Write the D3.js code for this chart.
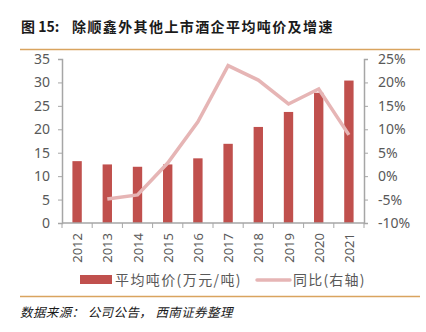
<!DOCTYPE html>
<meta charset="utf-8">
<script src="https://d3js.org/d3.v7.min.js"></script>
<style>
  body { margin: 0; background: #fff; }
  text { font-family: "Noto Sans CJK SC", "Noto Sans", sans-serif; }
</style>
<body>
<div id="chart"></div>
<script>
// chart data
var years = ["2012", "2013", "2014", "2015", "2016", "2017", "2018", "2019", "2020", "2021"];
var price = [13.2, 12.5, 12.0, 12.5, 13.8, 16.9, 20.5, 23.7, 27.8, 30.4];
var growth = [null, -4.9, -4.0, 2.8, 11.6, 23.6, 20.5, 15.4, 18.6, 8.8];
var leftTicks = [0, 5, 10, 15, 20, 25, 30, 35];
var rightTicks = [-10, -5, 0, 5, 10, 15, 20, 25];

var W = 426, H = 332;
var margin = {top: 59, left: 62, right: 62, bottom: 109};
var width = W - margin.left - margin.right,
    height = H - margin.top - margin.bottom;

var svg = d3.select("#chart").append("svg")
    .attr("width", W)
    .attr("height", H);

// title and rules
svg.append("text")
    .attr("x", 21).attr("y", 32)
    .attr("font-size", 14).attr("font-weight", "bold")
    .attr("fill", "#1a1a1a")
    .text("图 15:");
svg.append("text")
    .attr("x", 72).attr("y", 32)
    .attr("font-size", 14).attr("font-weight", "bold")
    .attr("letter-spacing", 1.4)
    .attr("fill", "#1a1a1a")
    .text("除顺鑫外其他上市酒企平均吨价及增速");
svg.append("line").attr("x1", 20).attr("x2", 420).attr("y1", 49.5).attr("y2", 49.5)
    .attr("stroke", "#d9a45f").attr("stroke-width", 1.5);
svg.append("line").attr("x1", 20).attr("x2", 420).attr("y1", 296.5).attr("y2", 296.5)
    .attr("stroke", "#d9a45f").attr("stroke-width", 1.5);
svg.append("text")
    .attr("x", 20).attr("y", 317)
    .attr("font-size", 12.5).attr("font-style", "italic")
    .attr("letter-spacing", 0.4)
    .attr("fill", "#1a1a1a")
    .text("数据来源： 公司公告， 西南证券整理");

var g = svg.append("g")
    .attr("transform", "translate(" + margin.left + "," + margin.top + ")");

var x = d3.scaleBand().domain(years).range([0, width]).paddingInner(0.69).paddingOuter(0.345);
var xb = d3.scaleBand().domain(years).range([0, width]);
var y = d3.scaleLinear().domain([0, 35]).range([height, 0]);
var y2 = d3.scaleLinear().domain([-10, 25]).range([height, 0]);

var axisColor = "#a6a6a6", labelColor = "#595959";

// bars
g.selectAll(".bar").data(years).enter().append("rect")
    .attr("x", function(d) { return x(d); })
    .attr("width", x.bandwidth())
    .attr("y", function(d, i) { return y(price[i]); })
    .attr("height", function(d, i) { return height - y(price[i]); })
    .attr("fill", "#c0504d");

// growth line
var line = d3.line()
    .defined(function(d) { return d.v !== null; })
    .x(function(d) { return xb(d.k) + xb.bandwidth() / 2; })
    .y(function(d) { return y2(d.v); });
g.append("path")
    .datum(years.map(function(k, i) { return {k: k, v: growth[i]}; }))
    .attr("fill", "none")
    .attr("stroke", "#e6b5b5")
    .attr("stroke-width", 3.5)
    .attr("d", line);

// left axis
var ay = g.append("g")
    .call(d3.axisLeft(y).tickValues(leftTicks).tickSize(4).tickPadding(8));
// right axis
var ay2 = g.append("g")
    .attr("transform", "translate(" + width + ",0)")
    .call(d3.axisRight(y2).tickValues(rightTicks).tickSize(4).tickPadding(10)
      .tickFormat(function(d) { return d + "%"; }));
// bottom axis, ticks at band edges
var edges = years.map(function(d) { return xb(d); }).concat([width]);
var ax = g.append("g")
    .attr("transform", "translate(0," + height + ")");
ax.append("line").attr("x1", 0).attr("x2", width).attr("stroke", axisColor).attr("stroke-width", 1.5);
ax.selectAll(".edge").data(edges).enter().append("line")
    .attr("x1", function(d) { return d; }).attr("x2", function(d) { return d; })
    .attr("y1", 0).attr("y2", 5)
    .attr("stroke", axisColor);
ax.selectAll(".yl").data(years).enter().append("text")
    .attr("transform", function(d) {
      return "translate(" + (xb(d) + xb.bandwidth() / 2 + 5) + ",10) rotate(-90)";
    })
    .attr("text-anchor", "end")
    .attr("font-size", 13)
    .attr("fill", labelColor)
    .text(function(d) { return d; });

[ay, ay2].forEach(function(a) {
  a.select(".domain").attr("stroke", axisColor).attr("stroke-width", 1.5);
  a.selectAll(".tick line").attr("stroke", axisColor);
  a.selectAll(".tick text").attr("fill", labelColor).attr("font-size", 14)
    .style("font-family", "'Noto Sans', sans-serif");
});
ax.selectAll("text").style("font-family", "'Noto Sans', sans-serif");

// legend
var lg = svg.append("g");
lg.append("rect").attr("x", 80).attr("y", 275).attr("width", 32).attr("height", 9).attr("fill", "#c0504d");
lg.append("text").attr("x", 115).attr("y", 285).attr("font-size", 14).attr("letter-spacing", 1.4)
    .attr("fill", labelColor)
    .text("平均吨价(万元/吨)");
lg.append("line").attr("x1", 257).attr("x2", 290).attr("y1", 280).attr("y2", 280)
    .attr("stroke", "#e6b5b5").attr("stroke-width", 3.5).attr("stroke-linecap", "round");
lg.append("text").attr("x", 293).attr("y", 285).attr("font-size", 14).attr("letter-spacing", 1.2)
    .attr("fill", labelColor)
    .text("同比(右轴)");
</script>
</body>
</html>
